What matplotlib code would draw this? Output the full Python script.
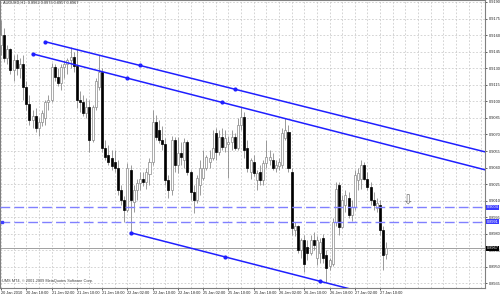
import matplotlib
matplotlib.use('Agg')
import matplotlib.pyplot as plt
from matplotlib.patches import Rectangle

plt.rcParams['font.family'] = ['Liberation Sans', 'DejaVu Sans']

# ---- data (H1 bars) ----
opens = [
    .9151, .9160, .9139, .9147, .9128, .9137, .9130, .9134, .9113, .9098,
    .9083, .9087, .9076, .9081, .9085, .9099, .9101, .9131, .9122, .9117,
    .9131, .9134, .9137, .9140, .9132, .9101, .9099, .9089, .9095, .9065,
    .9095, .9113, .9127, .9058, .9051, .9049, .9045, .9040, .9020, .9011,
    .9002, .9038, .9009, .9020, .9026, .9030, .9027, .9034, .9045, .9081,
    .9074, .9065, .9061, .9029, .9020, .9065, .9042, .9053, .9047, .9063,
    .9036, .9018, .9011, .9024, .9031, .9040, .9045, .9049, .9071, .9054,
    .9068, .9059, .9061, .9063, .9068, .9058, .9079, .9086, .9058, .9036,
    .9045, .9029, .9036, .9029, .9044, .9047, .9047, .9040, .9041, .9042,
    .9067, .9072, .9036, .8983, .8987, .8965, .8974, .8968, .8963, .8974,
    .8958, .8963, .8976, .8961, .8951, .8953, .8991, .9024, .8986, .9006,
    .9012, .8997, .9004, .9029, .9030, .9042, .9030, .9022, .9011, .9003,
    .9006, .8983, .8962]
highs = [
    .9174, .9166, .9151, .9148, .9142, .9143, .9139, .9142, .9118, .9106,
    .9092, .9094, .9085, .9092, .9101, .9106, .9135, .9134, .9130, .9134,
    .9137, .9139, .9149, .9145, .9147, .9109, .9106, .9103, .9101, .9097,
    .9121, .9142, .9130, .9065, .9060, .9056, .9056, .9047, .9024, .9014,
    .9044, .9042, .9024, .9030, .9036, .9036, .9040, .9049, .9092, .9088,
    .9083, .9078, .9067, .9033, .9069, .9068, .9068, .9063, .9067, .9065,
    .9038, .9024, .9033, .9047, .9056, .9051, .9056, .9074, .9076, .9074,
    .9076, .9074, .9069, .9074, .9071, .9085, .9095, .9090, .9065, .9049,
    .9051, .9038, .9042, .9047, .9065, .9056, .9053, .9047, .9049, .9076,
    .9085, .9079, .9040, .8991, .8988, .8976, .8979, .8974, .8979, .8982,
    .8978, .8976, .8980, .8965, .8958, .8994, .9027, .9027, .9015, .9020,
    .9018, .9011, .9038, .9040, .9047, .9045, .9036, .9027, .9018, .9012,
    .9011, .8987, .8973]
lows = [
    .9142, .9136, .9134, .9125, .9118, .9124, .9121, .9101, .9092, .9079,
    .9076, .9072, .9069, .9078, .9079, .9092, .9099, .9118, .9114, .9110,
    .9121, .9125, .9130, .9127, .9094, .9090, .9087, .9085, .9054, .9063,
    .9092, .9110, .9054, .9047, .9042, .9038, .9036, .9015, .9006, .8991,
    .9000, .8981, .9000, .9011, .9020, .9023, .9021, .9024, .9042, .9065,
    .9062, .9056, .9024, .9012, .9015, .9036, .9035, .9042, .9040, .9033,
    .9011, .8999, .9008, .9015, .9029, .9038, .9040, .9047, .9047, .9051,
    .9056, .9054, .9031, .9056, .9056, .9056, .9074, .9049, .9036, .9030,
    .9032, .9020, .9024, .9024, .9040, .9042, .9038, .9036, .9038, .9040,
    .9065, .9036, .8979, .8978, .8963, .8958, .8945, .8956, .8961, .8965,
    .8952, .8954, .8954, .8936, .8947, .8951, .8987, .8979, .8985, .9000,
    .8994, .8992, .9002, .9020, .9021, .9029, .9020, .9006, .9002, .9000,
    .8979, .8947, .8957]
closes = [
    .9160, .9139, .9147, .9128, .9137, .9130, .9134, .9113, .9098, .9083,
    .9087, .9076, .9081, .9089, .9099, .9101, .9131, .9122, .9117, .9131,
    .9134, .9137, .9140, .9132, .9101, .9099, .9089, .9095, .9065, .9095,
    .9118, .9127, .9058, .9050, .9045, .9041, .9040, .9020, .9011, .9002,
    .9040, .9011, .9020, .9026, .9030, .9027, .9036, .9045, .9081, .9068,
    .9065, .9061, .9029, .9020, .9065, .9042, .9053, .9050, .9063, .9036,
    .9018, .9011, .9031, .9040, .9040, .9050, .9049, .9058, .9054, .9068,
    .9059, .9067, .9063, .9068, .9058, .9079, .9086, .9056, .9040, .9047,
    .9035, .9035, .9029, .9044, .9050, .9050, .9040, .9042, .9045, .9071,
    .9074, .9040, .8985, .8987, .8965, .8974, .8953, .8963, .8974, .8970,
    .8974, .8973, .8958, .8949, .8956, .8991, .9021, .8986, .9011, .9015,
    .8997, .9004, .9033, .9035, .9042, .9030, .9022, .9011, .9006, .9008,
    .8983, .8961, .8967]

time_labels = ["20 Jan 2010", "20 Jan 18:00", "21 Jan 02:00", "21 Jan 10:00",
               "21 Jan 18:00", "22 Jan 02:00", "22 Jan 10:00", "22 Jan 18:00",
               "25 Jan 02:00", "25 Jan 10:00", "25 Jan 18:00", "26 Jan 02:00",
               "26 Jan 10:00", "26 Jan 18:00", "27 Jan 02:00", "27 Jan 10:00"]
label_bars = [0, 8, 16, 24, 32, 40, 48, 56, 64, 72, 80, 88, 96, 104, 112, 120]
price_ticks = [0.9190, 0.9175, 0.9160, 0.9145, 0.9130, 0.9115, 0.9100, 0.9085,
               0.9070, 0.9055, 0.9040, 0.9025, 0.9010, 0.8995, 0.8980, 0.8965,
               0.8950, 0.8935]

# trend lines: (bar, price) start and end anchors, extended as rays
trend_lines = [((14, 0.9154), (74, 0.9111)),
               ((10, 0.9143), (70, 0.9099)),
               ((41, 0.8981), (101, 0.8937))]
hlines = [0.9004, 0.8991]
bid = 0.8967
arrow_bar, arrow_price = 129, 0.9010
title = "AUDUSD,H1  0.8962 0.8973 0.8957 0.8967"

# ---- figure ----
fig = plt.figure(figsize=(5.0, 2.96), dpi=100)
ax = fig.add_axes([0.0, 8 / 296, 485 / 500, 288 / 296])
XMIN, XMAX = -0.32, 153.2
YMIN, YMAX = 0.89309, 0.91918
ax.set_xlim(XMIN, XMAX)
ax.set_ylim(YMIN, YMAX)

# grid
grid_kw = dict(color='#c4c4c4', lw=0.5, ls=(0, (2.5, 2.5)), zorder=0)
for b in range(0, 154, 4):
    ax.axvline(b, **grid_kw)
for p in price_ticks:
    ax.axhline(p, **grid_kw)

# candles
wick_c = '#8a8a8a'
w = 0.64
for i, (o, h, l, c) in enumerate(zip(opens, highs, lows, closes)):
    ax.plot([i, i], [l, h], color=wick_c, lw=0.6, zorder=2, solid_capstyle='butt')
    bottom = min(o, c)
    height = max(abs(c - o), 0.00002)
    fc = 'white' if c >= o else 'black'
    ax.add_patch(Rectangle((i - w / 2, bottom), w, height, facecolor=fc,
                           edgecolor=wick_c if c >= o else 'black', lw=0.5, zorder=3))

# horizontal dashed lines
for p in hlines:
    ax.axhline(p, color='#8080ff', lw=1.0, ls=(0, (7, 3)), zorder=4)
ax.plot([0.2], [hlines[1]], marker='s', ms=2, color='#4040ff', zorder=5)

# bid line
ax.axhline(bid, color='#a0a0a0', lw=0.7, zorder=1)

# trend lines
for (b0, p0), (b1, p1) in trend_lines:
    slope = (p1 - p0) / (b1 - b0)
    ax.plot([b0, XMAX], [p0, p0 + slope * (XMAX - b0)], color='#1f1fff', lw=1.1, zorder=5)
    bm, pm = (b0 + b1) / 2, (p0 + p1) / 2
    ax.plot([b0, bm, b1], [p0, pm, p1], ls='none', marker='o', ms=2.0,
            color='#1f1fff', zorder=6)

# arrow object
ax.text(arrow_bar, arrow_price, '\u21e9', family='DejaVu Sans', fontsize=9,
        ha='center', va='center', color='#707070', zorder=6)

# texts
ax.text(0.006, 0.997, title, transform=ax.transAxes, fontsize=2.8,
        ha='left', va='top', color='#303030')
ax.text(0.004, 0.016, "UMS MT4, \u00a9 2001-2009 MetaQuotes Software Corp.",
        transform=ax.transAxes, fontsize=2.8, ha='left', va='bottom', color='#404040')

# axes styling
for s in ax.spines.values():
    s.set_color('#808080')
    s.set_linewidth(0.8)
ax.yaxis.tick_right()
ax.set_yticks(price_ticks)
ax.set_yticklabels(['%.4f' % p for p in price_ticks])
ax.tick_params(axis='y', labelsize=2.8, length=1.5, width=0.5, pad=1,
               colors='#202020')
ax.set_xticks(label_bars)
ax.set_xticklabels(time_labels, ha='left')
ax.tick_params(axis='x', labelsize=2.8, length=1.5, width=0.5, pad=1,
               colors='#202020')

# price boxes on right axis
box_kw = dict(transform=ax.get_yaxis_transform(), fontsize=2.8, ha='left',
              va='center', clip_on=False)
for p in hlines:
    ax.text(1.004, p, '%.4f' % p, color='white',
            bbox=dict(boxstyle='square,pad=0.15', fc='#3c3cff', ec='none'), **box_kw)
ax.text(1.004, bid, '%.4f' % bid, color='white',
        bbox=dict(boxstyle='square,pad=0.15', fc='black', ec='none'), **box_kw)

fig.savefig('out.png', dpi=100)
